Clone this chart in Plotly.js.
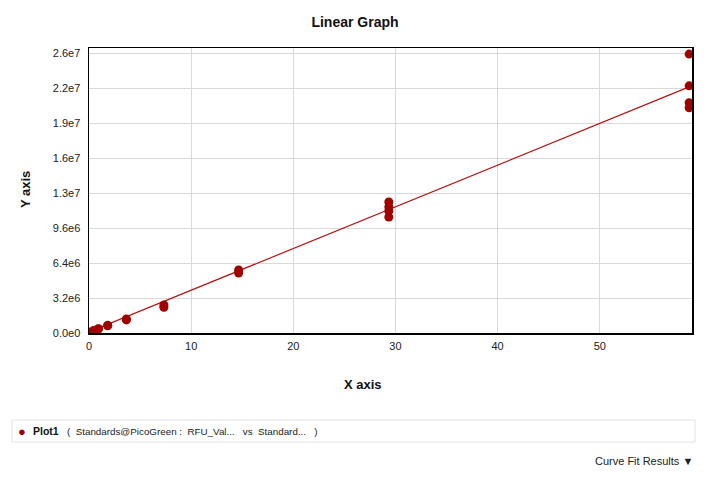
<!DOCTYPE html>
<html>
<head>
<meta charset="utf-8">
<script src="https://cdn.plot.ly/plotly-3.0.1.min.js"></script>
<style>
html,body{margin:0;padding:0;background:#fff;}
#chart{width:710px;height:477px;}
</style>
</head>
<body>
<div id="chart"></div>
<script>
// Standards concentration (x) and RFU values (y)
const stdX = [0, 0, 0.46, 0.46, 0.92, 0.92, 1.83, 1.83, 3.66, 3.66,
              7.33, 7.33, 14.65, 14.65, 29.35, 29.35, 29.35, 29.35,
              58.75, 58.75, 58.75, 58.75];
const stdY = [0.05e6, 0.1e6, 0.2e6, 0.22e6, 0.37e6, 0.4e6, 0.66e6, 0.7e6, 1.2e6, 1.28e6,
              2.35e6, 2.56e6, 5.49e6, 5.76e6, 10.6e6, 11.15e6, 11.52e6, 11.98e6,
              20.6e6, 21.06e6, 22.6e6, 25.5e6];
// Linear fit line end points
const fitX = [0, 58.75];
const fitY = [0.1e6, 22.5e6];
// Axis ticks
const xTicks = [0, 10, 20, 30, 40, 50];
const yTicks = [0, 3.2e6, 6.4e6, 9.6e6, 12.8e6, 16e6, 19.2e6, 22.4e6, 25.6e6];
const yTickText = ['0.0e0', '3.2e6', '6.4e6', '9.6e6', '1.3e7', '1.6e7', '1.9e7', '2.2e7', '2.6e7'];

const L = 89, R = 692, T = 48, B = 333;
const W = R - L, H = B - T;
const px = x => (x - L) / W;
const py = y => (B - y) / H;

const font = 'Arial, "Liberation Sans", sans-serif';

const traces = [
  {x: fitX, y: fitY, type: 'scatter', mode: 'lines',
   line: {color: '#b01515', width: 1.2}, hoverinfo: 'skip', showlegend: false},
  {x: stdX, y: stdY, type: 'scatter', mode: 'markers',
   marker: {color: '#a00000', size: 9}, showlegend: false, name: 'Plot1'}
];

const layout = {
  width: 710, height: 477,
  margin: {l: L, r: 710 - R, t: T, b: 477 - B, pad: 0},
  paper_bgcolor: '#fff', plot_bgcolor: '#fff',
  font: {family: font, size: 11, color: '#222'},
  title: {text: '<b>Linear Graph</b>', x: 0.5, xref: 'container', xanchor: 'center',
          y: 1 - 22 / 477, yref: 'container', yanchor: 'middle',
          font: {family: font, size: 14, color: '#111'}},
  xaxis: {range: [0, 59.03], tickvals: xTicks, ticktext: xTicks.map(String),
          showgrid: true, gridcolor: '#d9d9d9', gridwidth: 1, zeroline: false,
          showline: true, linecolor: '#000', linewidth: 1.5, mirror: true,
          ticks: '', ticklabelstandoff: 2, tickfont: {family: font, size: 11, color: '#222'}},
  yaxis: {range: [0, 26.06e6], tickvals: yTicks, ticktext: yTickText,
          showgrid: true, gridcolor: '#d9d9d9', gridwidth: 1, zeroline: false,
          showline: true, linecolor: '#000', linewidth: 1.5, mirror: true,
          ticks: '', ticklabelstandoff: 5, tickfont: {family: font, size: 11, color: '#222'}},
  shapes: [
    {type: 'rect', xref: 'paper', yref: 'paper',
     x0: px(12), x1: px(695), y0: py(442), y1: py(420),
     line: {color: '#e2e2e2', width: 1}, fillcolor: '#fff', layer: 'above'}
  ],
  annotations: [
    {text: '<b>X axis</b>', xref: 'paper', yref: 'paper', x: px(363), y: py(384),
     showarrow: false, xanchor: 'center', yanchor: 'middle',
     font: {family: font, size: 13, color: '#111'}},
    {text: '<b>Y axis</b>', xref: 'paper', yref: 'paper', x: px(25), y: py(190),
     showarrow: false, textangle: -90, xanchor: 'center', yanchor: 'middle',
     font: {family: font, size: 13, color: '#111'}},
    {text: '●', xref: 'paper', yref: 'paper', x: px(22), y: py(431),
     showarrow: false, xanchor: 'center', yanchor: 'middle',
     font: {family: font, size: 13, color: '#a00000'}},
    {text: '<b>Plot1</b>', xref: 'paper', yref: 'paper', x: px(31), y: py(431),
     showarrow: false, xanchor: 'left', yanchor: 'middle',
     font: {family: font, size: 10.5, color: '#111'}},
    {text: '(  Standards@PicoGreen :  RFU_Val...   vs  Standard...   )', xref: 'paper', yref: 'paper',
     x: px(65), y: py(431), showarrow: false, xanchor: 'left', yanchor: 'middle',
     font: {family: font, size: 9.8, color: '#222'}},
    {text: 'Curve Fit Results ▼', xref: 'paper', yref: 'paper', x: px(695), y: py(461),
     showarrow: false, xanchor: 'right', yanchor: 'middle',
     font: {family: font, size: 11, color: '#222'}}
  ]
};

Plotly.newPlot('chart', traces, layout, {displayModeBar: false, staticPlot: true});
</script>
</body>
</html>
